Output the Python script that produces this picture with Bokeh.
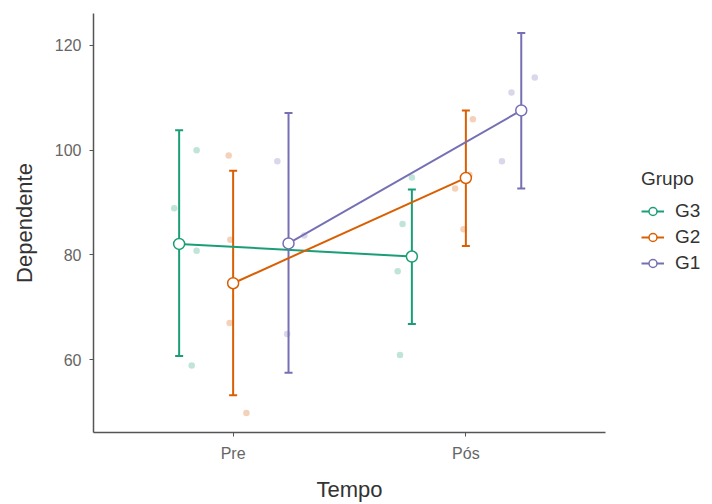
from bokeh.plotting import figure
from bokeh.models import (ColumnDataSource, Whisker, TeeHead, Legend, LegendItem,
                          FixedTicker, Range1d)
from bokeh.embed import file_html
from bokeh.resources import INLINE

# ---- data ----
tempos = ["Pre", "Pós"]
grupos = ["G3", "G2", "G1"]
colors = {"G3": "#1b9e77", "G2": "#d95f02", "G1": "#7570b3"}
dodge = {"G3": -0.232, "G2": 0.0, "G1": 0.238}

means = {"G3": [82.1, 79.7], "G2": [74.6, 94.7], "G1": [82.2, 107.6]}
upper = {"G3": [103.8, 92.5], "G2": [96.1, 107.6], "G1": [107.1, 122.4]}
lower = {"G3": [60.7, 66.8], "G2": [53.2, 81.7], "G1": [57.5, 92.7]}

# raw observations (time index, value, jitter)
obs_t = {"G3": [0, 0, 0, 0, 1, 1, 1, 1],
         "G2": [0, 0, 0, 0, 1, 1, 1, 1],
         "G1": [0, 0, 0, 0, 1, 1, 1, 1]}
obs_v = {"G3": [100.0, 88.9, 80.8, 58.9, 94.8, 85.9, 76.9, 60.9],
         "G2": [99.0, 82.9, 67.0, 49.8, 105.9, 92.7, 84.9, 95.3],
         "G1": [97.9, 64.9, 83.7, 82.3, 113.9, 111.0, 97.9, 107.6]}
obs_j = {"G3": [0.075, -0.021, 0.075, 0.054, 0.0, -0.040, -0.061, -0.051],
         "G2": [-0.019, -0.012, -0.015, 0.057, 0.030, -0.046, -0.010, 0.015],
         "G1": [-0.048, -0.006, 0.068, 0.0, 0.058, -0.042, -0.083, 0.0]}

FONT = "Liberation Sans"

p = figure(frame_width=512, frame_height=419, output_backend="svg",
           toolbar_location=None,
           x_range=Range1d(-0.6, 1.6), y_range=Range1d(46.1, 126.1),
           min_border_left=93, min_border_top=13, min_border_bottom=72,
           min_border_right=107)
p.outline_line_color = None
p.grid.visible = False
p.background_fill_color = "white"

items = []
for g in grupos:
    c = colors[g]
    xs = [i + dodge[g] for i in range(len(tempos))]
    # jittered raw points
    px = [t + dodge[g] + j for t, j in zip(obs_t[g], obs_j[g])]
    p.scatter(px, obs_v[g], size=6.5, fill_color=c, line_color=None, fill_alpha=0.28)
    src = ColumnDataSource(dict(x=xs, m=means[g], up=upper[g], lo=lower[g]))
    w = Whisker(base="x", upper="up", lower="lo", source=src, dimension="height",
                line_color=c, line_width=2,
                upper_head=TeeHead(size=8, line_color=c, line_width=2),
                lower_head=TeeHead(size=8, line_color=c, line_width=2))
    p.add_layout(w)
    lr = p.line("x", "m", source=src, line_color=c, line_width=2)
    sr = p.scatter("x", "m", source=src, size=11, fill_color="white",
                   line_color=c, line_width=1.5)
    items.append(LegendItem(label=g, renderers=[lr, sr]))

legend = Legend(items=items, location=(36, 158), title="Grupo",
                title_text_font=FONT, title_text_font_size="19px",
                title_text_font_style="normal",
                title_text_color="#333333", label_text_font=FONT,
                label_text_font_size="19px", label_text_color="#333333",
                border_line_color=None, background_fill_alpha=0,
                margin=0, padding=8, spacing=4, glyph_width=23,
                glyph_height=20, label_height=20, label_standoff=11,
                title_standoff=10)
p.add_layout(legend, "right")

for ax in (p.xaxis[0], p.yaxis[0]):
    ax.axis_line_color = "#555555"
    ax.axis_line_width = 1.5
    ax.major_tick_line_color = "#555555"
    ax.major_tick_line_width = 1
    ax.major_tick_out = 4
    ax.major_tick_in = 0
    ax.minor_tick_line_color = None
    ax.major_label_text_font = FONT
    ax.major_label_text_font_size = "16px"
    ax.major_label_text_color = "#666666"
    ax.axis_label_text_font = FONT
    ax.axis_label_text_font_size = "22px"
    ax.axis_label_text_font_style = "normal"
    ax.axis_label_text_color = "#333333"

p.xaxis.ticker = FixedTicker(ticks=list(range(len(tempos))))
p.xaxis.major_label_overrides = {i: t for i, t in enumerate(tempos)}
p.xaxis.axis_label = "Tempo"
p.xaxis.major_label_standoff = 8
p.xaxis.axis_label_standoff = 12
p.yaxis.ticker = FixedTicker(ticks=[60, 80, 100, 120])
p.yaxis.axis_label = "Dependente"
p.yaxis.major_label_standoff = 8
p.yaxis.axis_label_standoff = 15

open("out.html", "w").write(file_html(p, INLINE))
